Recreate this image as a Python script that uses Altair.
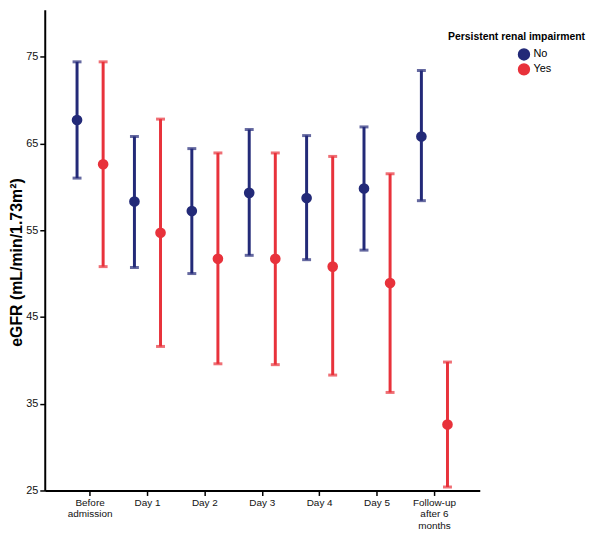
import altair as alt
import pandas as pd

categories = ["Before admission", "Day 1", "Day 2", "Day 3", "Day 4", "Day 5",
              "Follow-up after 6 months"]
groups = ["No", "Yes"]

no_mean = [67.7, 58.3, 57.2, 59.3, 58.7, 59.8, 65.8]
no_low = [61.0, 50.7, 50.0, 52.1, 51.6, 52.7, 58.4]
no_high = [74.4, 65.8, 64.4, 66.6, 65.9, 66.9, 73.4]

yes_mean = [62.6, 54.7, 51.7, 51.7, 50.8, 48.9, 32.6]
yes_low = [50.8, 41.6, 39.6, 39.5, 38.3, 36.3, 25.4]
yes_high = [74.4, 67.8, 63.9, 63.9, 63.5, 61.5, 39.8]

y_ticks = [25, 35, 45, 55, 65, 75]

rows = []
for i, c in enumerate(categories):
    rows.append({"time": c, "group": "No", "mean": no_mean[i], "low": no_low[i], "high": no_high[i]})
    rows.append({"time": c, "group": "Yes", "mean": yes_mean[i], "low": yes_low[i], "high": yes_high[i]})
df = pd.DataFrame(rows)

BLUE = "#232A78"
RED = "#E8323B"
FONT = "Liberation Sans"

label_expr = ("datum.label == 'Before admission' ? ['Before', 'admission'] : "
              "datum.label == 'Follow-up after 6 months' ? ['Follow-up', 'after 6', 'months'] : datum.label")

x_enc = alt.X("time:N", sort=categories,
              scale=alt.Scale(paddingInner=0, paddingOuter=0.29),
              axis=alt.Axis(title=None, labelAngle=0, labelExpr=label_expr,
                            labelFontSize=10, labelLineHeight=11.5, labelPadding=2,
                            labelBaseline="top", tickSize=5))
xoff_enc = alt.XOffset("group:N", sort=groups, scale=alt.Scale(paddingOuter=0.1))

y_scale = alt.Scale(domain=[25, 80.4], nice=False, zero=False)
y_axis = alt.Axis(values=y_ticks, title="eGFR (mL/min/1.73m²)", titleFontSize=16,
                  titleFontWeight="bold", titlePadding=1, titleY=254, labelFontSize=11,
                  tickSize=5, labelPadding=2)

color_enc = alt.Color("group:N", scale=alt.Scale(domain=groups, range=[BLUE, RED]),
                      legend=alt.Legend(title="Persistent renal impairment", orient="none",
                                        legendX=406, legendY=22, symbolType="circle",
                                        symbolSize=120, symbolOffset=70, rowPadding=-10,
                                        labelOffset=3,
                                        titleFontSize=10.5, titleFontWeight="bold",
                                        labelFontSize=11, titlePadding=6))

base = alt.Chart(df).encode(x=x_enc, xOffset=xoff_enc, color=color_enc)

points = base.mark_circle(size=115, opacity=1).encode(
    y=alt.Y("mean:Q", scale=y_scale, axis=y_axis),
)
rules = base.mark_rule(strokeWidth=3).encode(
    y=alt.Y("low:Q", scale=y_scale),
    y2="high:Q",
)
cap_low = base.mark_tick(size=9, thickness=3).encode(
    y=alt.Y("low:Q", scale=y_scale),
)
cap_high = base.mark_tick(size=9, thickness=3).encode(
    y=alt.Y("high:Q", scale=y_scale),
)

chart = alt.layer(points, rules, cap_low, cap_high).properties(
    width=438, height=484,
    autosize=alt.AutoSizeParams(type="none"),
    padding={"top": 0, "left": 37, "right": 113, "bottom": 38},
).configure_view(stroke=None).configure_axis(
    grid=False, domainColor="black", domainWidth=2, tickColor="black", tickWidth=1.5,
    labelFont=FONT, titleFont=FONT, labelColor="#111111", titleColor="black",
).configure_legend(
    labelFont=FONT, titleFont=FONT, labelColor="black", titleColor="black",
)

chart.save("out.html", embed_options={"renderer": "svg", "actions": False})
